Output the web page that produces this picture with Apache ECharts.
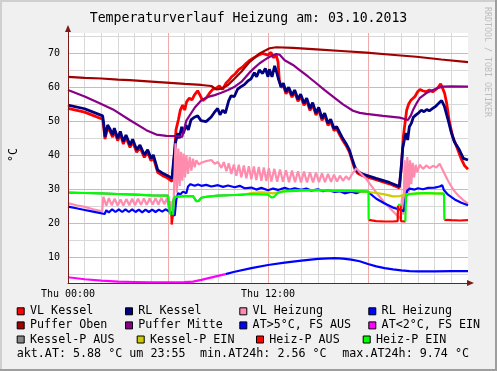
<!DOCTYPE html>
<html><head><meta charset="utf-8">
<script src="https://cdn.jsdelivr.net/npm/echarts@6/dist/echarts.min.js"></script>
<style>html,body{margin:0;padding:0;background:#F0F0F0}#c{width:497px;height:371px}</style>
</head><body><div id="c"></div>
<script>
// ---------------- data ----------------
const titleText = 'Temperaturverlauf Heizung am: 03.10.2013';
const yAxisTitle = '°C';
const watermark = 'RRDTOOL / TOBI OETIKER';
const xTickHours = [0, 12];
const xTickLabels = ['Thu 00:00', 'Thu 12:00'];
const yTickValues = [10, 20, 30, 40, 50, 60, 70];
const yMinorGrid = [5, 15, 25, 35, 45, 55, 65, 75];
const xMinorGrid = [1, 2, 3, 4, 5, 7, 8, 9, 10, 11, 13, 14, 15, 16, 17, 19, 20, 21, 22, 23];
const xMajorGrid = [6, 12, 18];
const yRange = [2.4, 76];
const xRange = [0, 24];

const vlKessel = [[0,53.8],[1,52.7],[2.08,50.6],[2.14,48.4],[2.22,44.8],[2.38,48.2],[2.54,46.8],[2.68,45.3],[2.78,47.3],[2.98,44.3],[3.14,46.3],[3.32,43.3],[3.48,45.3],[3.72,42.3],[3.88,44.0],[4.12,40.9],[4.32,42.3],[4.58,39.4],[4.78,40.9],[4.98,38.4],[5.12,39.4],[5.38,35.0],[5.68,34.0],[5.98,33.3],[6.24,32.3],[6.38,39.6],[6.48,47.5],[6.62,50.4],[6.74,53.3],[6.88,54.8],[7.0,53.3],[7.12,55.8],[7.28,56.8],[7.44,56.3],[7.58,57.7],[7.78,59.0],[7.92,57.7],[8.08,56.1],[8.28,56.8],[8.48,58.2],[8.68,59.4],[8.88,59.7],[9.08,60.4],[9.28,59.4],[9.48,61.2],[9.64,62.0],[9.84,63.2],[10.04,64.0],[10.24,65.2],[10.48,66.0],[10.68,67.0],[10.92,68.0],[11.18,68.8],[11.44,69.5],[11.68,70.0],[12.0,69.5],[12.18,70.3],[12.32,68.7],[12.48,69.6],[12.6,67.6],[12.68,62.2],[12.78,60.0],[12.92,60.6],[13.08,58.1],[13.24,59.4],[13.44,57.1],[13.6,58.6],[13.8,55.9],[13.96,57.4],[14.16,54.7],[14.32,56.2],[14.52,53.2],[14.68,54.9],[14.88,51.8],[15.04,53.5],[15.24,50.3],[15.4,51.8],[15.6,48.8],[15.76,50.0],[15.96,47.3],[16.12,47.8],[16.32,45.9],[16.48,44.4],[16.68,42.9],[16.88,41.0],[17.04,38.5],[17.2,36.1],[17.38,34.7],[17.68,34.0],[18.48,32.8],[19.28,31.6],[19.88,30.4],[20.02,37.6],[20.12,45.5],[20.22,49.4],[20.32,53.3],[20.44,55.1],[20.56,56.1],[20.68,55.8],[20.82,57.3],[20.98,58.7],[21.12,59.4],[21.28,59.0],[21.48,58.7],[21.68,59.2],[21.88,58.7],[22.08,59.4],[22.24,60.2],[22.36,61.0],[22.48,59.7],[22.6,58.2],[22.72,55.3],[22.88,49.9],[23.08,45.5],[23.32,42.5],[23.58,39.1],[23.8,36.9],[24,35.9]];

const rlKessel = [[0,54.8],[1,53.7],[2.08,51.6],[2.14,49.4],[2.22,45.5],[2.38,48.9],[2.54,47.5],[2.68,46.0],[2.78,48.0],[2.98,45.0],[3.14,47.0],[3.32,44.0],[3.48,46.0],[3.72,43.0],[3.88,44.7],[4.12,41.6],[4.32,43.0],[4.58,40.1],[4.78,41.6],[4.98,39.1],[5.12,40.1],[5.38,35.7],[5.68,34.7],[5.98,34.0],[6.24,33.2],[6.32,37.6],[6.44,43.5],[6.58,46.5],[6.68,45.0],[6.82,48.4],[6.92,46.5],[7.08,48.9],[7.22,47.5],[7.38,50.4],[7.58,51.2],[7.78,51.6],[7.98,50.2],[8.28,49.9],[8.58,51.2],[8.78,52.6],[8.98,53.8],[9.12,51.9],[9.28,53.3],[9.44,52.4],[9.64,56.0],[9.78,57.5],[9.98,57.3],[10.18,59.5],[10.38,60.2],[10.58,60.8],[10.78,61.8],[10.98,62.5],[11.18,64.3],[11.32,63.1],[11.48,65.1],[11.68,64.1],[11.84,65.6],[12.0,63.1],[12.08,65.3],[12.24,63.1],[12.4,66.3],[12.54,64.1],[12.64,62.2],[12.78,60.2],[12.92,61.2],[13.08,58.7],[13.24,60.0],[13.44,57.7],[13.6,59.2],[13.8,56.5],[13.96,58.0],[14.16,55.3],[14.32,56.8],[14.52,53.8],[14.68,55.5],[14.88,52.4],[15.04,54.1],[15.24,50.9],[15.4,52.4],[15.6,49.4],[15.76,50.6],[15.96,47.9],[16.12,48.4],[16.32,46.5],[16.48,45.0],[16.68,43.5],[16.88,41.6],[17.04,39.1],[17.2,36.7],[17.38,35.2],[17.68,34.5],[18.48,33.2],[19.28,32.0],[19.88,30.8],[19.98,35.7],[20.08,42.1],[20.18,44.5],[20.28,46.5],[20.38,44.5],[20.48,48.4],[20.6,49.4],[20.72,51.2],[20.88,51.9],[21.04,52.5],[21.2,53.3],[21.36,52.8],[21.52,53.5],[21.68,53.1],[21.88,53.8],[22.08,54.5],[22.28,55.5],[22.42,56.1],[22.58,54.5],[22.78,50.9],[22.98,47.0],[23.18,44.0],[23.48,41.6],[23.72,39.1],[24,38.6]];

const vlHeizung = [[0,25.9],[0.5,25.3],[1,24.8],[1.5,24.1],[2.05,23.5],[2.12,27.8],[2.3,25.2],[2.45,27.4],[2.62,25.3],[2.8,27.2],[2.98,25.2],[3.15,27.0],[3.32,25.2],[3.5,27.1],[3.68,25.3],[3.85,27.2],[4.02,25.3],[4.2,27.2],[4.38,25.4],[4.55,27.3],[4.72,25.4],[4.9,27.3],[5.08,25.5],[5.25,27.4],[5.42,25.5],[5.6,27.5],[5.78,25.6],[5.95,27.5],[6.05,24.0],[6.15,26.5],[6.25,22.0],[6.35,28.0],[6.45,43.5],[6.53,29.0],[6.62,42.0],[6.7,31.0],[6.78,41.0],[6.86,32.5],[6.94,40.5],[7.02,33.5],[7.1,40.0],[7.2,34.5],[7.3,39.5],[7.4,35.5],[7.5,39.0],[7.6,36.5],[7.7,38.5],[7.85,37.3],[8.0,37.8],[8.3,38.3],[8.6,38.6],[8.8,37.5],[9.0,38.0],[9.2,36.3],[9.35,38.0],[9.5,35.3],[9.65,37.6],[9.8,34.5],[9.95,37.3],[10.1,34.0],[10.25,37.2],[10.4,33.5],[10.55,37.0],[10.7,33.2],[10.85,36.8],[11.0,32.9],[11.15,36.7],[11.3,32.7],[11.45,36.6],[11.6,32.5],[11.75,36.4],[11.9,32.4],[12.05,36.2],[12.2,32.3],[12.38,36.0],[12.55,32.2],[12.72,35.8],[12.9,32.2],[13.08,35.6],[13.26,32.1],[13.44,35.5],[13.62,32.1],[13.8,35.3],[13.98,32.0],[14.16,35.2],[14.34,32.0],[14.52,35.0],[14.7,32.0],[14.88,34.9],[15.06,32.1],[15.24,34.7],[15.42,32.1],[15.6,34.5],[15.78,32.2],[15.96,34.3],[16.14,32.3],[16.32,34.0],[16.5,32.5],[16.68,33.8],[16.86,32.8],[17.04,34.5],[17.2,35.5],[17.3,36.2],[17.5,35.0],[17.9,33.0],[18.2,31.0],[18.5,29.0],[18.8,27.2],[19.1,25.5],[19.4,24.0],[19.7,22.5],[19.95,21.3],[20.05,28.0],[20.12,22.5],[20.2,38.5],[20.28,26.0],[20.36,39.5],[20.44,29.0],[20.52,38.5],[20.6,31.5],[20.68,37.8],[20.76,33.5],[20.86,37.2],[20.96,35.0],[21.1,37.2],[21.3,36.0],[21.5,37.0],[21.7,36.2],[21.9,36.9],[22.1,36.4],[22.3,37.5],[22.42,37.2],[22.55,35.0],[22.8,32.5],[23.1,30.0],[23.4,28.2],[23.7,26.9],[24,25.8]];

const rlHeizung = [[0,24.9],[0.5,24.4],[1,23.9],[1.5,23.4],[2.2,22.7],[2.3,23.8],[2.45,23.2],[2.65,24.1],[2.85,23.3],[3.05,24.1],[3.25,23.3],[3.45,24.1],[3.65,23.3],[3.85,24.1],[4.05,23.3],[4.25,24.0],[4.45,23.2],[4.65,24.0],[4.85,23.3],[5.05,24.0],[5.25,23.3],[5.45,24.0],[5.65,23.4],[5.85,24.1],[6.05,23.5],[6.2,23.0],[6.4,22.2],[6.5,27.0],[6.6,28.8],[6.75,28.5],[6.9,29.3],[7.1,28.8],[7.2,30.8],[7.35,31.5],[7.6,31.0],[7.8,31.4],[8.0,31.0],[8.3,31.3],[8.6,30.8],[9.0,31.2],[9.3,30.7],[9.6,31.1],[10,30.6],[10.3,31.0],[10.6,30.3],[11,30.5],[11.3,29.9],[11.6,30.4],[12,29.7],[12.3,30.2],[12.6,29.8],[13,30.4],[13.3,29.9],[13.6,30.3],[14,29.8],[14.3,30.2],[14.6,29.6],[15,30.0],[15.3,29.4],[15.6,29.7],[16,29.2],[16.3,29.4],[16.6,28.8],[17,29.3],[17.3,28.8],[17.6,29.4],[18.0,29.2],[18.1,28.8],[18.5,27.2],[19,25.8],[19.5,24.6],[20.0,23.9],[20.15,23.5],[20.25,27.0],[20.35,29.6],[20.5,30.2],[20.8,29.9],[21,30.3],[21.3,30.0],[21.6,30.4],[22,30.5],[22.3,30.8],[22.45,31.2],[22.55,29.8],[22.8,28.4],[23.2,27.0],[23.6,26.0],[24,25.3]];

const pufferOben = [[0,63.1],[1,62.8],[2,62.6],[3,62.3],[3.7,62.1],[5,61.7],[5.9,61.4],[7,61.0],[8.0,60.7],[8.6,60.4],[8.9,59.4],[9.2,59.6],[9.6,60.7],[10.0,62.6],[10.4,64.6],[10.9,67.5],[11.5,70.0],[12.1,71.5],[12.5,71.8],[13.5,71.6],[14.9,71.2],[16.4,70.7],[17.9,70.2],[19.4,69.6],[20.9,69.0],[22.4,68.2],[24,67.4]];

const pufferMitte = [[0,59.2],[1,57.3],[1.9,55.3],[2.7,53.5],[3.7,50.4],[4.7,47.4],[5.3,46.1],[5.9,45.7],[6.7,45.6],[6.85,45.4],[7.1,50.2],[7.6,54.0],[8.0,56.2],[8.4,57.2],[8.8,57.7],[9.2,58.4],[9.6,59.2],[10.0,60.2],[10.4,61.6],[10.9,64.4],[11.2,65.8],[11.5,67.1],[11.8,68.1],[12.1,69.0],[12.5,69.8],[12.7,69.6],[13.0,68.0],[13.5,66.6],[13.9,65.1],[14.4,63.2],[14.9,61.2],[15.4,59.2],[15.9,57.3],[16.5,55.0],[17.1,53.1],[17.5,52.5],[17.9,52.2],[18.9,51.6],[19.9,51.1],[20.2,50.7],[20.4,50.4],[20.55,51.5],[20.7,53.3],[20.9,55.2],[21.1,56.8],[21.5,58.3],[21.9,59.2],[22.2,59.8],[22.5,60.2],[23,60.3],[24,60.2]];

const atWarm = [[9.45,5.0],[10,5.7],[11,6.8],[12,7.7],[13,8.4],[14,9.0],[15,9.5],[16,9.74],[16.5,9.6],[17,9.3],[17.5,8.8],[18,8.0],[18.5,7.3],[19,6.8],[19.5,6.4],[20,6.1],[20.5,5.9],[21,5.8],[22,5.85],[23,5.9],[24,5.88]];
const atCold = [[0,4.1],[1,3.5],[2,3.1],[3,2.8],[4,2.7],[5,2.6],[6,2.56],[7,2.65],[7.5,2.8],[8,3.3],[8.5,3.9],[9,4.5],[9.45,5.0]];

const kesselPAus = [[0,29.0],[1,28.9],[2,28.8],[3,28.6],[4,28.4],[5,28.2],[6.0,28.1],[6.1,28.0],[6.12,22.8],[6.2,22.8],[6.25,null],[6.3,22.5],[6.33,26.9],[6.45,27.8],[7.0,28.0],[7.5,28.0],[7.7,26.5],[7.85,26.6],[8.0,27.5],[8.3,27.8],[9,28.1],[10,28.3],[10.6,28.4]];
const kesselPEin = [[10.6,28.4],[11,28.9],[11.5,29.1],[12,29.0],[12.3,28.8],[12.6,29.1],[13,29.5],[14,29.7],[15,29.7],[16,29.6],[17,29.5],[18,29.2],[18.5,28.9],[19,28.5],[19.5,27.9],[19.9,28.0],[20.3,28.5],[21,28.8],[22,28.8],[22.5,28.8]];
const heizPAus = [[6.2,22.8],[6.22,19.6],[6.27,19.8],[6.3,22.5],[6.31,null],[18.04,21.0],[18.1,20.8],[18.5,20.6],[19,20.5],[19.5,20.5],[19.78,20.6],[19.8,25.2],[19.82,null],[19.96,25.2],[19.98,20.6],[20.2,20.5],[20.24,20.6],[20.26,null],[22.58,21.0],[22.7,20.9],[23,20.9],[23.5,20.8],[24,20.9]];
const heizPEin = [[0,29.0],[1,28.9],[2,28.8],[3,28.6],[4,28.4],[5,28.2],[6.0,28.1],[6.1,28.0],[6.12,22.8],[6.2,22.8],[6.25,null],[6.3,22.5],[6.33,26.9],[6.45,27.8],[7.0,28.0],[7.5,28.0],[7.7,26.5],[7.85,26.6],[8.0,27.5],[8.3,27.8],[9,28.1],[10,28.3],[11,28.6],[12,28.4],[12.2,27.6],[12.35,27.7],[12.6,29.0],[13,29.4],[14,29.6],[15,29.7],[16,29.6],[17,29.5],[18.03,29.3],[18.04,21.0],[18.06,null],[19.8,25.4],[19.96,25.4],[19.97,null],[20.24,20.6],[20.28,28.3],[20.5,28.6],[21,28.8],[21.5,28.9],[22,28.8],[22.56,28.7],[22.58,21.0]];

const seriesNames = ['VL Kessel','RL Kessel','VL Heizung','RL Heizung','Puffer Oben','Puffer Mitte','AT>5°C, FS AUS','AT<2°C, FS EIN','Kessel-P AUS','Kessel-P EIN','Heiz-P AUS','Heiz-P EIN'];
const seriesData = [vlKessel, rlKessel, vlHeizung, rlHeizung, pufferOben, pufferMitte, atWarm, atCold, kesselPAus, kesselPEin, heizPAus, heizPEin];

const aktAT = '5.88', aktTime = '23:55', minAT = '2.56', maxAT = '9.74';

// ---------------- styles ----------------
const colors = ['#FF0000','#000080','#FF8CAF','#0000FF','#A00000','#880088','#0000FF','#FF00FF','#888888','#CCCC00','#FF0000','#00FF00'];
const widths = [2.8,2.8,2.2,2.2,2.2,2.2,2.2,2.2,2.2,2.2,2.2,2.2];
const mono = 'DejaVu Sans Mono';
const axisColor = '#7A1A1A';
const minorC = '#D8D8D8';
const majorC = '#F0AAAA';

const chart = echarts.init(document.getElementById('c'), null, {renderer: 'canvas'});

// canvas background + grid lines: [kind (2 = canvas, 0 = vertical, 1 = horizontal), value, major flag]
const gridRows = [[2, 0, 0]]
  .concat(xMinorGrid.map(v => [0, v, 0]))
  .concat(yMinorGrid.map(v => [1, v, 0]))
  .concat(xMajorGrid.map(v => [0, v, 1]))
  .concat(yTickValues.map(v => [1, v, 1]));
// axis lines: [kind (0 = y axis at xRange[0], 1 = x axis at yRange[0])]
const axisRows = [[0], [1]];

const crisp = p => Math.round(p - 0.5) + 0.5;
const series = [{
  type: 'custom', name: 'grid', silent: true, z: 1, clip: true,
  data: gridRows, encode: {x: -1, y: -1},
  renderItem: (params, api) => {
    const kind = api.value(0), v = api.value(1), major = api.value(2);
    if (kind === 2) {
      const cs = params.coordSys;
      return {type: 'rect', z2: -10, shape: {x: cs.x, y: cs.y, width: cs.width, height: cs.height}, style: {fill: '#FFFFFF'}};
    }
    let a, b;
    if (kind === 0) { a = api.coord([v, yRange[0]]); b = api.coord([v, yRange[1]]); const x = crisp(a[0]); a[0] = x; b[0] = x; }
    else { a = api.coord([xRange[0], v]); b = api.coord([xRange[1], v]); const y = crisp(a[1]); a[1] = y; b[1] = y; }
    return {type: 'line', z2: major ? 2 : 1, shape: {x1: a[0], y1: a[1], x2: b[0], y2: b[1]},
      style: {stroke: major ? majorC : minorC, lineWidth: 1}};
  }
}];
seriesNames.forEach((n, i) => {
  series.push({
    type: 'line', name: n, data: seriesData[i], showSymbol: false, symbol: 'none',
    connectNulls: false, silent: true, z: 2, emphasis: {disabled: true},
    lineStyle: {color: colors[i], width: widths[i]}, itemStyle: {color: colors[i]}
  });
});
series.push({
  type: 'custom', name: 'axes', silent: true, z: 3, clip: false,
  data: axisRows, encode: {x: -1, y: -1},
  renderItem: (params, api) => {
    const kind = api.value(0);
    let a, b;
    if (kind === 0) { a = api.coord([xRange[0], yRange[0]]); b = api.coord([xRange[0], yRange[1]]); const x = crisp(a[0]); a[0] = x; b[0] = x; b[1] -= 2; }
    else { a = api.coord([xRange[0], yRange[0]]); b = api.coord([xRange[1], yRange[0]]); const y = crisp(a[1]); a[1] = y; b[1] = y; b[0] += 2; }
    return {type: 'line', shape: {x1: a[0], y1: a[1], x2: b[0], y2: b[1]}, style: {stroke: axisColor, lineWidth: 1}};
  }
});

// legend layout (graphic)
const legendRows = [[0,1,2,3],[4,5,6,7],[8,9,10,11]];
const legendX = [[16.7,125,239.3,368.3],[16.7,125,239.3,368.3],[16.7,136.7,256,362.7]];
const legendY = [311.3, 325.4, 339.5];
const graphics = [
  {type:'rect', shape:{x:0,y:0,width:497,height:2}, style:{fill:'#CFCFCF'}, z:50},
  {type:'rect', shape:{x:0,y:0,width:2,height:371}, style:{fill:'#CFCFCF'}, z:50},
  {type:'rect', shape:{x:495,y:0,width:2,height:371}, style:{fill:'#9E9E9E'}, z:50},
  {type:'rect', shape:{x:0,y:369,width:497,height:2}, style:{fill:'#9E9E9E'}, z:50},
  {type:'text', x:487.5, y:62, rotation:-Math.PI/2, z:50,
   style:{text: watermark, fill:'#BDBDBD', font:'8.3px "' + mono + '"', align:'center', verticalAlign:'middle', textAlign:'center', textVerticalAlign:'middle'}},
  {type:'text', x:13.5, y:155, rotation:Math.PI/2, z:50,
   style:{text: yAxisTitle, fill:'#000', font:'11.7px "' + mono + '"', align:'center', verticalAlign:'middle', textAlign:'center', textVerticalAlign:'middle'}}
];
legendRows.forEach((row, r) => {
  row.forEach((si, c) => {
    const x = legendX[r][c], y = legendY[r];
    graphics.push({type:'rect', z:50, shape:{x:x+0.5, y:y-3.5, width:7, height:7},
      style:{fill: colors[si], stroke:'#000', lineWidth:1}});
    graphics.push({type:'text', z:50, x: x + 13.3, y: y,
      style:{text: seriesNames[si], fill:'#000', font:'11.7px "' + mono + '"', align:'left', verticalAlign:'middle', textAlign:'left', textVerticalAlign:'middle'}});
  });
});
const footer = [
  ['akt.AT: ' + aktAT + ' °C um ' + aktTime, 16.7],
  ['min.AT24h: ' + minAT + ' °C', 200],
  ['max.AT24h: ' + maxAT + ' °C', 342.3]
];
footer.forEach(f => graphics.push({type:'text', z:50, x: f[1], y: 353.6,
  style:{text: f[0], fill:'#000', font:'11.7px "' + mono + '"', align:'left', verticalAlign:'middle', textAlign:'left', textVerticalAlign:'middle'}}));

const ySpan = yRange[1] - yRange[0];

const option = {
  animation: false,
  backgroundColor: '#F0F0F0',
  title: {text: titleText, left: 'center', top: 7,
    textStyle: {fontFamily: mono, fontSize: 13.2, fontWeight: 'normal', color: '#000'}},
  grid: {left: 68, right: 29, top: 33, bottom: 88, show: false},
  xAxis: {type: 'value', min: xRange[0], max: xRange[1], interval: 12, z: 10,
    axisLine: {show: true, onZero: false, lineStyle: {color: axisColor, width: 1},
      symbol: ['none','triangle'], symbolSize: [6,7], symbolOffset: [0,2.5]},
    axisTick: {show: false}, splitLine: {show: false},
    axisLabel: {fontFamily: mono, fontSize: 10, color: '#000', margin: 6, showMaxLabel: false,
      formatter: v => { const i = xTickHours.indexOf(v); return i >= 0 ? xTickLabels[i] : ''; }}},
  yAxis: {type: 'value', min: yRange[0], max: yRange[1], splitNumber: Math.round(ySpan / 10), z: 10,
    axisLine: {show: true, onZero: false, lineStyle: {color: axisColor, width: 1},
      symbol: ['none','triangle'], symbolSize: [6,7], symbolOffset: [0,4.5]},
    axisTick: {show: false}, splitLine: {show: false},
    axisLabel: {fontFamily: mono, fontSize: 10, color: '#000', margin: 8, showMinLabel: false, showMaxLabel: false,
      formatter: v => yTickValues.indexOf(v) >= 0 ? String(v) : ''}},
  series: series,
  graphic: graphics
};
chart.setOption(option);
</script>
</body></html>
